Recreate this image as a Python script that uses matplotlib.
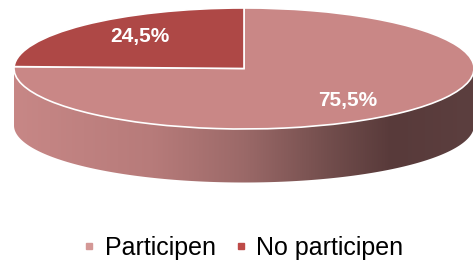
import numpy as np
import matplotlib
matplotlib.use("Agg")
import matplotlib.pyplot as plt
from matplotlib.patches import Polygon
from matplotlib.lines import Line2D
from matplotlib.colors import LinearSegmentedColormap

plt.rcParams['font.family'] = ['Liberation Sans', 'DejaVu Sans']

labels = ["Participen", "No participen"]
values = [75.5, 24.5]
colors = ["#C98786", "#AE4846"]
legend_colors = ["#D49896", "#BE4B48"]

W, H = 473, 264
fig = plt.figure(figsize=(W / 100, H / 100), dpi=100)
ax = fig.add_axes([0, 0, 1, 1])
ax.set_xlim(0, W)
ax.set_ylim(H, 0)
ax.axis('off')

# geometry of the 3D disc (pixels)
cx, cy, a, b = 244.0, 68.5, 230.0, 60.5
depth = 57.0
b2 = 57.0

t = np.linspace(np.pi, 2 * np.pi, 200)
top_x = cx + a * np.cos(t)
top_y = cy - b * np.sin(t)
bot_x = cx + a * np.cos(t[::-1])
bot_y = cy + depth - b2 * np.sin(t[::-1])
poly = Polygon(np.column_stack([np.r_[top_x, bot_x], np.r_[top_y, bot_y]]),
               closed=True, facecolor='none', edgecolor='none')
ax.add_patch(poly)

cmap = LinearSegmentedColormap.from_list("side", [
    (0.0, (199/255, 135/255, 134/255)),
    (0.30, (183/255, 123/255, 122/255)),
    (0.50, (155/255, 105/255, 104/255)),
    (0.68, (115/255, 78/255, 77/255)),
    (0.82, (88/255, 58/255, 58/255)),
    (1.0, (92/255, 63/255, 63/255)),
])
grad = np.linspace(0, 1, 512)[None, :]
im = ax.imshow(grad, cmap=cmap, extent=[cx - a, cx + a, cy + depth + b2 + 2, cy - 2],
               aspect='auto', zorder=1)
im.set_clip_path(poly)
ax.set_xlim(0, W)
ax.set_ylim(H, 0)

# top face of the pie
pax = fig.add_axes([(cx - a) / W, 1 - (cy + b) / H, 2 * a / W, 2 * b / H])
wedges, texts, autotexts = pax.pie(
    values, colors=colors, startangle=90, counterclock=False, radius=1,
    wedgeprops=dict(edgecolor='white', linewidth=1.2),
    autopct=lambda p: f"{p:.1f}%".replace('.', ','), pctdistance=0.70,
    textprops=dict(color='white', fontsize=15, fontweight='bold'))
rot = np.deg2rad(-4)
for at in autotexts:
    x, y = at.get_position()
    at.set_position((x * np.cos(rot) - y * np.sin(rot), x * np.sin(rot) + y * np.cos(rot)))
pax.set_aspect('auto')
pax.set_xlim(-1, 1)
pax.set_ylim(-1, 1)
pax.axis('off')

handles = [Line2D([], [], marker='s', linestyle='none', markersize=4.6,
                  markerfacecolor=c, markeredgecolor=c) for c in legend_colors]
fig.legend(handles, labels, loc='center left', bbox_to_anchor=(83.0 / W, 1 - 247.5 / H),
           ncol=2, frameon=False, fontsize=18, handlelength=0.5,
           handletextpad=0.37, columnspacing=0.76, borderpad=0.0, borderaxespad=0.0)

fig.savefig("out.png", dpi=100)
